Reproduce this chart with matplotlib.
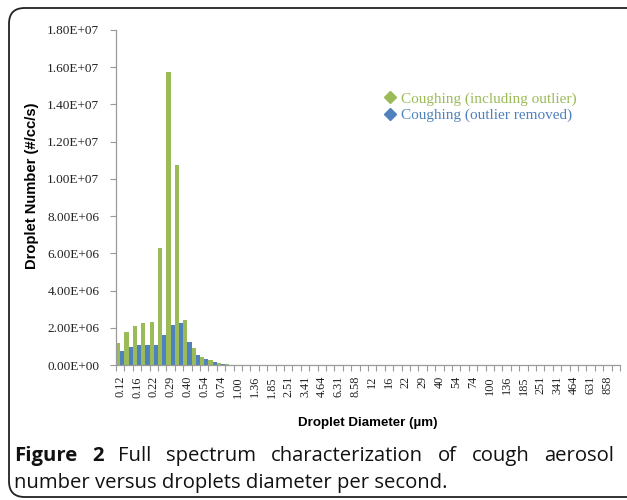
"""
Cough aerosol droplet number vs droplet diameter
"""

import matplotlib
matplotlib.use('Agg')
import matplotlib.pyplot as plt
from matplotlib.lines import Line2D
from matplotlib.patches import FancyBboxPatch
from matplotlib.ticker import FuncFormatter

# droplet diameter bins (um); only every other one is labelled on the chart
diameters = ['0.12', '0.14', '0.16', '0.19', '0.22', '0.25', '0.29', '0.34',
             '0.40', '0.47', '0.54', '0.63', '0.74', '0.86', '1.00', '1.17',
             '1.36', '1.59', '1.85', '2.15', '2.51', '2.93', '3.41', '3.98',
             '4.64', '5.41', '6.31', '7.36', '8.58', '10', '12', '14',
             '16', '19', '22', '25', '29', '34', '40', '47',
             '54', '63', '74', '86', '100', '117', '136', '159',
             '185', '215', '251', '293', '341', '398', '464', '541',
             '631', '736', '858', '1000']

# droplet number (#/cc/s)
including_outlier = [1.17e6, 1.76e6, 2.12e6, 2.28e6, 2.32e6, 6.31e6, 1.575e7, 1.072e7,
                     2.41e6, 0.93e6, 0.42e6, 0.25e6, 0.11e6, 0.03e6] + [0.0] * 46
outlier_removed = [0.75e6, 0.96e6, 1.07e6, 1.10e6, 1.10e6, 1.62e6, 2.16e6, 2.25e6,
                   1.23e6, 0.53e6, 0.30e6, 0.16e6, 0.07e6, 0.02e6] + [0.0] * 46

GREEN = '#9BBB59'
BLUE = '#4F81BD'
SERIF = 'Liberation Serif'

fig = plt.figure(figsize=(6.27, 5.0), dpi=100)
ax = fig.add_axes([116 / 627, 1 - 365 / 500, 504 / 627, 335 / 500])

idx = list(range(len(diameters)))
ax.bar([i - 0.25 for i in idx], including_outlier, width=0.5, color=GREEN, linewidth=0)
ax.bar([i + 0.25 for i in idx], outlier_removed, width=0.5, color=BLUE, linewidth=0)

ax.set_xlim(-0.5, len(diameters) - 0.5)
ax.set_ylim(0, 1.8e7)
ax.set_yticks([i * 2e6 for i in range(10)])
ax.yaxis.set_major_formatter(FuncFormatter(lambda v, p: '%.2E' % v))

# labels on every other bin, tick marks on bin edges
ax.set_xticks(idx[::2])
ax.set_xticklabels(diameters[::2], rotation=90, fontfamily=SERIF, fontsize=8.8)
ax.set_xticks([i - 0.5 for i in range(len(diameters) + 1)], minor=True)
ax.tick_params(axis='x', which='major', length=0, pad=8, colors='#222222')
ax.tick_params(axis='x', which='minor', length=4, color='#9a9a9a', width=0.8)
ax.tick_params(axis='y', length=4, color='#9a9a9a', width=0.8, pad=8)
for lab in ax.get_yticklabels():
    lab.set_fontfamily(SERIF)
    lab.set_fontsize(9.5)
    lab.set_color('#222222')

for side in ['top', 'right']:
    ax.spines[side].set_visible(False)
for side in ['left', 'bottom']:
    ax.spines[side].set_color('#9a9a9a')
    ax.spines[side].set_linewidth(0.9)

fig.text(32 / 627, 1 - 186 / 500, 'Droplet Number (#/cc/s)', rotation=90,
         ha='center', va='center', fontfamily='Liberation Sans', fontweight='bold', fontsize=10.6)
fig.text(368 / 627, 1 - 423 / 500, 'Droplet Diameter (\u00b5m)',
         ha='center', va='center', fontfamily='Liberation Sans', fontweight='bold', fontsize=9.6)

handles = [Line2D([], [], marker='D', linestyle='none', color=GREEN, markersize=6),
           Line2D([], [], marker='D', linestyle='none', color=BLUE, markersize=6)]
leg = ax.legend(handles, ['Coughing (including outlier)', 'Coughing (outlier removed)'],
                loc='upper left', bbox_to_anchor=(376 / 627, 1 - 84 / 500),
                bbox_transform=fig.transFigure, frameon=False, borderpad=0,
                handlelength=0.8, handletextpad=0.35, labelspacing=0.2,
                prop={'family': SERIF, 'size': 11.0})
for txt, col in zip(leg.get_texts(), [GREEN, BLUE]):
    txt.set_color(col)

# frame around the figure
frame = FancyBboxPatch((9 / 627, 3 / 500), 640 / 627, 489 / 500,
                       boxstyle='round,pad=0,rounding_size=0.025',
                       transform=fig.transFigure, fill=False, edgecolor='#222222',
                       linewidth=1.3, mutation_aspect=627 / 500)
fig.patches.append(frame)

# caption, first line spread to the full width
renderer = fig.canvas.get_renderer()
cap_font = 'Open Sans'
cap_size = 14.6
words = [('Figure', 'bold'), ('2', 'bold'), ('Full', 'normal'), ('spectrum', 'normal'),
         ('characterization', 'normal'), ('of', 'normal'), ('cough', 'normal'),
         ('aerosol', 'normal')]
x_left, x_right = 14, 614
texts = []
total = 0
for w, weight in words:
    t = fig.text(0, 1 - 456 / 500, w, fontfamily=cap_font, fontweight=weight,
                 fontsize=cap_size, va='center', ha='left', color='#111111')
    width = t.get_window_extent(renderer).width
    texts.append((t, width))
    total += width
gap = (x_right - x_left - total) / (len(words) - 1)
x = x_left
for t, width in texts:
    t.set_x(x / 627)
    x += width + gap

fig.text(x_left / 627, 1 - 483 / 500, 'number versus droplets diameter per second.',
         fontfamily=cap_font, fontsize=cap_size, va='center', ha='left', color='#111111')

plt.savefig('out.png', dpi=100)
plt.close()
